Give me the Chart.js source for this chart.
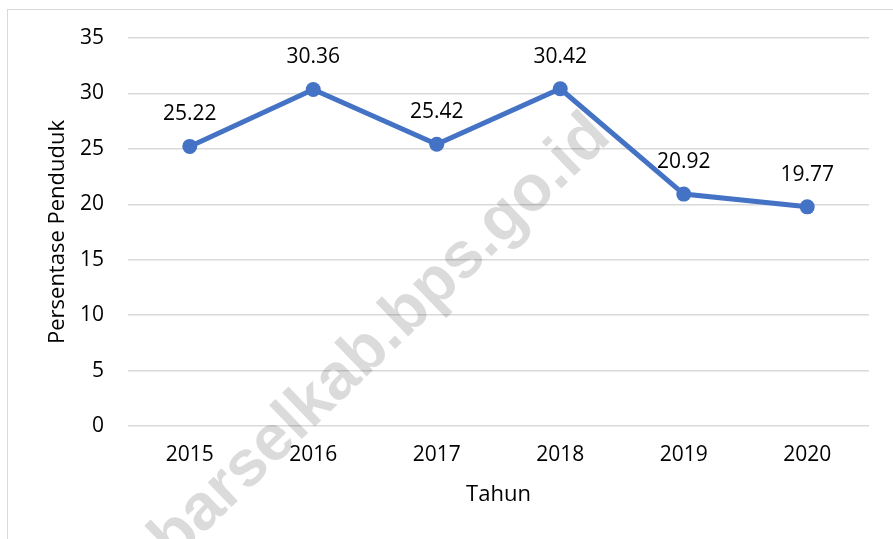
<!DOCTYPE html>
<html>
<head>
<meta charset="utf-8">
<script src="https://cdn.jsdelivr.net/npm/chart.js@4"></script>
<style>
  html, body { margin: 0; padding: 0; background: #fff; }
  #wrap { width: 893px; height: 539px; }
</style>
</head>
<body>
<div id="wrap"><canvas id="lineChart"></canvas></div>
<script>
// data
const years = ['2015', '2016', '2017', '2018', '2019', '2020'];
const persentase = [25.22, 30.36, 25.42, 30.42, 20.92, 19.77];
const yTicks = [0, 5, 10, 15, 20, 25, 30, 35];

const FONT = 'Open Sans';
const BLUE = '#4472C4';
const GRID = '#d9d9d9';

// frame + watermark behind the line
const backdrop = {
  id: 'backdrop',
  beforeDraw(chart) {
    const ctx = chart.ctx;
    ctx.save();
    ctx.strokeStyle = GRID;
    ctx.lineWidth = 1;
    ctx.strokeRect(7.5, 9.5, 1000, 1000);
    ctx.restore();
  },
  beforeDatasetsDraw(chart) {
    const ctx = chart.ctx;
    ctx.save();
    ctx.translate(360, 358);
    ctx.rotate(-44 * Math.PI / 180);
    ctx.font = 'bold 65px "Liberation Sans", Arial, sans-serif';
    ctx.fillStyle = 'rgba(0,0,0,0.14)';
    ctx.textAlign = 'center';
    ctx.textBaseline = 'middle';
    ctx.fillText('tabarselkab.bps.go.id', 0, 0);
    ctx.restore();
  }
};

// value labels above points
const valueLabels = {
  id: 'valueLabels',
  afterDatasetsDraw(chart) {
    const ctx = chart.ctx;
    const meta = chart.getDatasetMeta(0);
    ctx.save();
    ctx.font = '21px "' + FONT + '"';
    ctx.fillStyle = '#000';
    ctx.textAlign = 'center';
    ctx.textBaseline = 'middle';
    meta.data.forEach((pt, i) => {
      ctx.fillText(persentase[i].toFixed(2), pt.x, pt.y - 32);
    });
    ctx.restore();
  }
};

new Chart(document.getElementById('lineChart'), {
  type: 'line',
  data: {
    labels: years,
    datasets: [{
      data: persentase,
      borderColor: BLUE,
      backgroundColor: BLUE,
      borderWidth: 5,
      pointRadius: 7.5,
      pointBorderWidth: 0,
      pointBackgroundColor: BLUE,
      tension: 0,
    }],
  },
  options: {
    responsive: true,
    maintainAspectRatio: false,
    animation: false,
    layout: { padding: { left: 0, right: 24, top: 38, bottom: 31 } },
    plugins: {
      legend: { display: false },
      tooltip: { enabled: false },
    },
    scales: {
      x: {
        offset: true,
        grid: { display: false, drawTicks: false },
        border: { display: false },
        ticks: { color: '#000', font: { family: FONT, size: 21 }, padding: 16, maxRotation: 0 },
        title: { display: true, text: 'Tahun', color: '#000', font: { family: FONT, size: 22 }, padding: 0 },
        afterFit: s => { s.height = 82; },
      },
      y: {
        min: 0, max: 35,
        afterBuildTicks: s => { s.ticks = yTicks.map(v => ({ value: v })); },
        grid: { color: GRID, lineWidth: 1.5, drawTicks: false },
        border: { display: false },
        ticks: { color: '#000', font: { family: FONT, size: 21 }, padding: 24 },
        title: { display: true, text: 'Persentase Penduduk', color: '#000', font: { family: FONT, size: 22 }, padding: { top: 45, bottom: 0 } },
        afterFit: s => { s.width = 128; },
      },
    },
  },
  plugins: [backdrop, valueLabels],
});
</script>
</body>
</html>
